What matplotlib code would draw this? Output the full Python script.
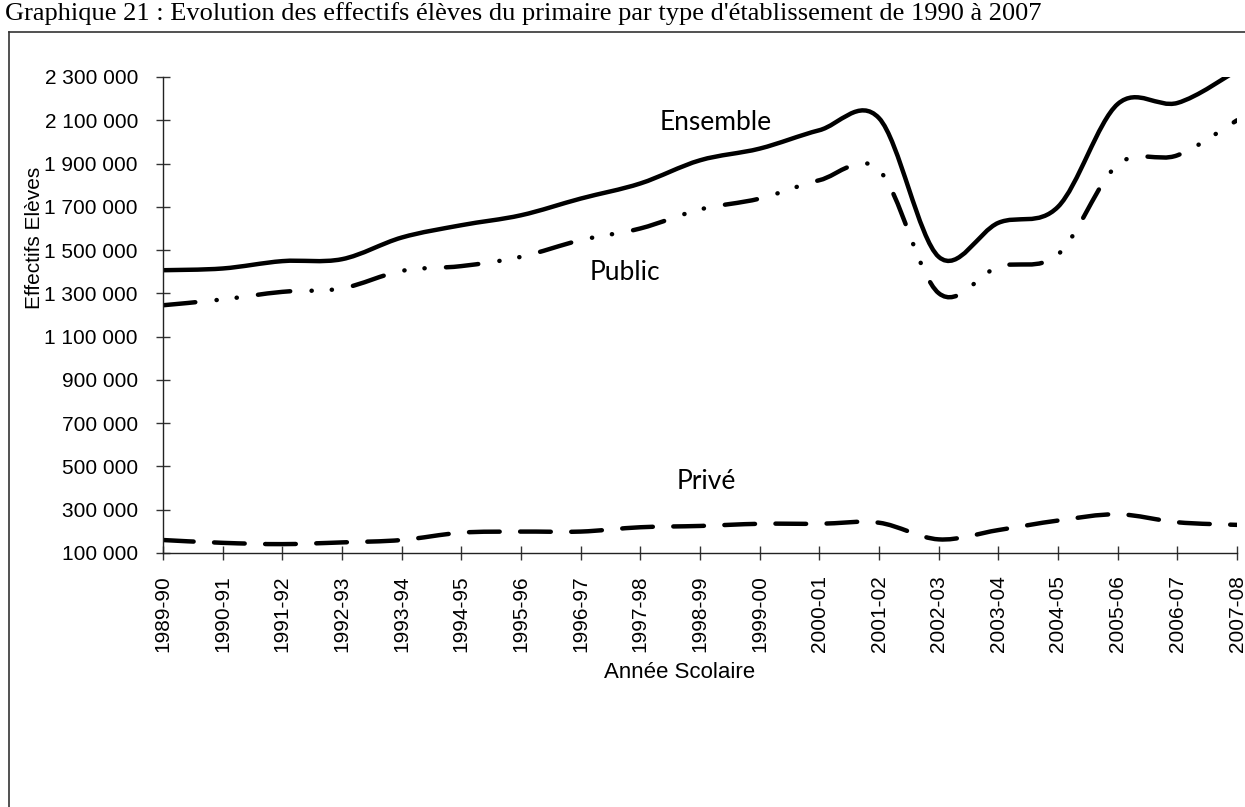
import matplotlib.pyplot as plt
import matplotlib.lines as mlines
from matplotlib.path import Path
from matplotlib.patches import PathPatch
from matplotlib.ticker import FuncFormatter

years = ['1989-90', '1990-91', '1991-92', '1992-93', '1993-94', '1994-95', '1995-96',
         '1996-97', '1997-98', '1998-99', '1999-00', '2000-01', '2001-02', '2002-03',
         '2003-04', '2004-05', '2005-06', '2006-07', '2007-08']
ensemble = [1407000, 1415000, 1449000, 1458000, 1558000, 1615000, 1661000, 1738000,
            1808000, 1915000, 1969000, 2054000, 2110000, 1469000, 1626000, 1700000,
            2175000, 2180000, 2330000]
public = [1245000, 1272000, 1307000, 1323000, 1404000, 1426000, 1469000, 1546000,
          1600000, 1688000, 1738000, 1823000, 1870000, 1301000, 1423000, 1480000,
          1895000, 1938000, 2100000]
prive = [160000, 147000, 141000, 149000, 160000, 194000, 199000, 199000, 219000,
         225000, 235000, 235000, 240000, 163000, 206000, 250000, 279000, 242000, 230000]

yticks = list(range(100000, 2300001, 200000))


def smooth_path(xs, ys):
    # excel-like smoothed line: bezier segments through every point
    n = len(xs)
    verts = [(xs[0], ys[0])]
    codes = [Path.MOVETO]
    for i in range(n - 1):
        i0 = max(i - 1, 0)
        i3 = min(i + 2, n - 1)
        c1 = (xs[i] + (xs[i + 1] - xs[i0]) / 6.0, ys[i] + (ys[i + 1] - ys[i0]) / 6.0)
        c2 = (xs[i + 1] - (xs[i3] - xs[i]) / 6.0, ys[i + 1] - (ys[i3] - ys[i]) / 6.0)
        verts += [c1, c2, (xs[i + 1], ys[i + 1])]
        codes += [Path.CURVE4] * 3
    return Path(verts, codes)


fig = plt.figure(figsize=(12.45, 8.07), dpi=100)
ax = fig.add_axes([163 / 1245, 1 - 553 / 807, (1237 - 163) / 1245, (553 - 77) / 807])

x = list(range(len(years)))
lw = 3.2
styles = [
    (ensemble, '-'),
    (public, (0, (7.3, 4.8, 0.05, 4.5, 0.05, 4.8))),
    (prive, (0, (6.9, 4.6))),
]
for vals, ls in styles:
    p = PathPatch(smooth_path(x, vals), fill=False, edgecolor='black', lw=lw,
                  linestyle=ls, capstyle='round', joinstyle='round')
    ax.add_patch(p)

ax.set_xlim(0, len(years) - 1)
ax.set_ylim(100000, 2300000)
ax.set_xticks(x)
ax.set_xticklabels(years, rotation=90, fontsize=15, family='Liberation Sans')
ax.set_yticks(yticks)
ax.yaxis.set_major_formatter(FuncFormatter(lambda v, pos: f'{int(v):,}'.replace(',', ' ')))
for lab in ax.get_yticklabels():
    lab.set_fontsize(15)
    lab.set_family('Liberation Sans')
ax.tick_params(axis='both', direction='inout', length=10, width=1, color='#333333')
ax.tick_params(axis='y', pad=13)
ax.tick_params(axis='x', pad=11)
for s in ['top', 'right']:
    ax.spines[s].set_visible(False)
for s in ['left', 'bottom']:
    ax.spines[s].set_color('#222222')
    ax.spines[s].set_linewidth(1)

# series names
ax.text(7 + (716 - 581) / 59.67, 2300000 - (123 - 77) * 4619, 'Ensemble', fontsize=19,
        family='Lato', ha='center', va='center')
ax.text(7 + (625 - 581) / 59.67, 2300000 - (273 - 77) * 4619, 'Public', fontsize=19,
        family='Lato', ha='center', va='center')
ax.text(7 + (707 - 581) / 59.67, 2300000 - (482 - 77) * 4619, 'Privé', fontsize=19,
        family='Lato', ha='center', va='center')

fig.text(35 / 1245, 1 - 238 / 807, 'Effectifs Elèves', rotation=90, ha='center',
         va='center', fontsize=15, family='Liberation Sans')
fig.text(680 / 1245, 1 - 672 / 807, 'Année Scolaire', ha='center', va='center',
         fontsize=16, family='Liberation Sans')

# title above the frame
fig.text(5 / 1245, 1 - 20 / 807,
         "Graphique 21 : Evolution des effectifs élèves du primaire par type d'établissement de 1990 à 2007",
         ha='left', va='baseline', fontsize=19, family='Liberation Serif')

# frame around the chart
fig.add_artist(mlines.Line2D([9 / 1245, 9 / 1245], [0, 1 - 32 / 807], color='#333333', lw=1.2))
fig.add_artist(mlines.Line2D([9 / 1245, 1], [1 - 32 / 807, 1 - 32 / 807], color='#333333', lw=1.2))

fig.savefig('out.png', dpi=100)
